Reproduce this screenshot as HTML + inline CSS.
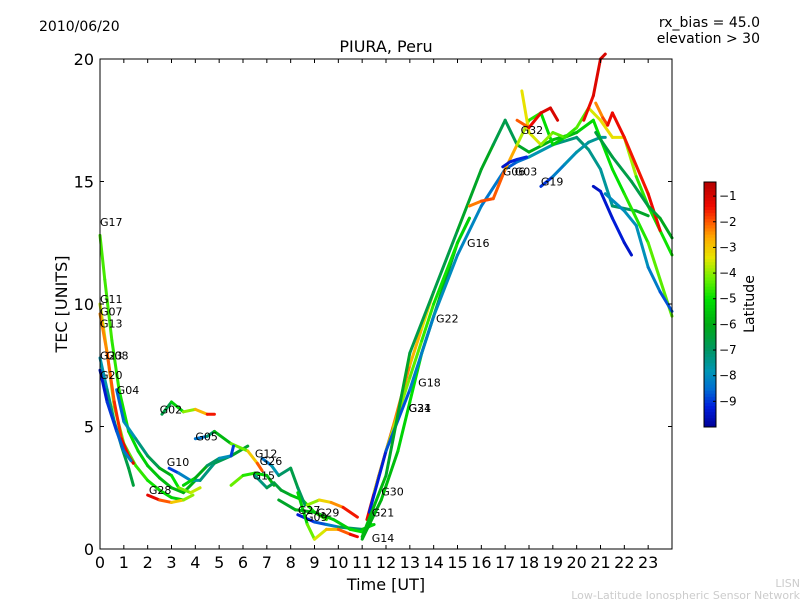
<!DOCTYPE html>
<html><head><meta charset="utf-8"><style>
body{margin:0;background:#fff;width:800px;height:600px;overflow:hidden;font-family:"Liberation Sans","DejaVu Sans",sans-serif}
</style></head><body>
<svg id="chart" width="800" height="600" xmlns="http://www.w3.org/2000/svg" font-family="DejaVu Sans, Liberation Sans, sans-serif">
<rect width="800" height="600" fill="#fff"/>
<text x="39" y="31" font-size="14">2010/06/20</text>
<text x="760" y="27" font-size="14" text-anchor="end">rx_bias = 45.0</text>
<text x="760" y="43" font-size="14" text-anchor="end">elevation &gt; 30</text>
<text x="386" y="52" font-size="16" text-anchor="middle">PIURA, Peru</text>
<g id="marks"></g>
<g id="labels" font-size="11"></g>
<rect x="100" y="59" width="572" height="490" fill="none" stroke="#000" stroke-width="1"/>
<g id="axes"></g>
<text x="386" y="590" font-size="16" text-anchor="middle">Time [UT]</text>
<text transform="translate(67,304) rotate(-90)" font-size="16" text-anchor="middle">TEC [UNITS]</text>
<g id="cbar"></g>
<text transform="translate(754,304) rotate(-90)" font-size="14" text-anchor="middle">Latitude</text>
<text x="800" y="587" font-size="11" fill="#ccc" text-anchor="end">LISN</text>
<text x="800" y="599" font-size="11" fill="#ccc" text-anchor="end">Low-Latitude Ionospheric Sensor Network</text>
</svg>
<script>
const xTicks=[0,1,2,3,4,5,6,7,8,9,10,11,12,13,14,15,16,17,18,19,20,21,22,23];
const yTicks=[0,5,10,15,20];
const cbTicks=[-1,-2,-3,-4,-5,-6,-7,-8,-9];
const latMin=-10, latMax=-0.45;
const satNames=["G17","G11","G07","G13","G23","G08","G20","G04","G02","G05","G10","G28","G12","G26","G15","G27","G09","G29","G14","G21","G30","G31","G24","G18","G22","G16","G06","G03","G32","G19"];
const labelT=[0,0,0,0,0,0.25,0,0.7,2.5,4,2.8,2.05,6.5,6.7,6.4,8.3,8.6,9.1,11.4,11.4,11.8,12.95,12.95,13.35,14.1,15.4,16.9,17.4,17.65,18.5];
const labelV=[13.35,10.2,9.7,9.2,7.9,7.9,7.1,6.5,5.7,4.6,3.55,2.4,3.9,3.6,3.0,1.6,1.3,1.5,0.45,1.5,2.35,5.75,5.75,6.8,9.4,12.5,15.4,15.4,17.1,15.0];
const trackTimes=[
 [0,0.2,0.5,0.8,1.2,1.6,2,2.5,3,3.5,4],
 [0,0.3,0.6,1,1.5,2,2.5,3,3.5],
 [0,0.3,0.6,0.9,1.2,1.4],
 [0,0.3,0.6,0.9,1.2,1.4],
 [0,0.3,0.7,1,1.3],
 [0.7,1,1.5,2,2.5,3,3.3,3.8,4.2],
 [2.0,2.5,3,3.5,3.9],
 [2.9,3.3,3.8,4.2,4.8,5.5,6.2],
 [2.6,3,3.5,4,4.5,4.8],
 [4.0,4.5,4.8,5.5,6.2,6.6,6.8],
 [3.5,4,4.5,5,5.5,5.6],
 [5.5,6,6.5,7,7.3],
 [6.5,7,7.3,7.6,8,8.5,9,9.5],
 [6.8,7.2,7.5,8,8.3,8.6],
 [8.3,9,9.5,10,11,11.5],
 [8.7,9.2,9.7,10.2,10.8],
 [8.3,8.7,9,9.5,10,10.5,10.8],
 [7.5,8.2,9,9.8,10.5,11,11.4],
 [11.0,11.8,12.5,13,13.5,14,14.5,15,15.5],
 [11.2,11.7,12.3,13,13.5,14],
 [11.5,12,12.5,13,13.5,14,15,15.5],
 [11.3,12,13,14,15,16,17,17.5,18,19,20,20.5,21,21.5,22.5,23],
 [11.0,12,13,14,15,16,16.5,17,17.5,18,19,20,20.7,21.5,22,23,24],
 [15.5,16,16.5,17,17.5,18,18.5,19,19.5,20],
 [17.7,18,18.5,19,19.5,20,20.5,21,21.5,22,22.5,23,24],
 [17.5,18,18.5,18.9,19.2],
 [18.5,19,19.5,20,20.5,21,21.2],
 [20.7,21,21.5,22,22.3],
 [20.3,20.7,21,21.2],
 [20.8,21.1,21.3,21.5,22,23,23.5],
 [20.8,21.5,22.3,23,23.5,24],
 [21.2,22,22.5,23,23.5,24],
 [16.9,17.2,17.5,17.9]
];
const trackValues=[
 [12.8,11,8.5,6.5,4.8,4.0,3.4,2.9,2.5,2.3,2.8],
 [10,8,5.8,4.3,3.4,2.8,2.4,2.1,2.0],
 [9.6,8,6,4.5,3.8,3.5],
 [7.8,6.5,5.2,4.2,3.3,2.6],
 [7.3,6,4.8,4.0,3.6],
 [6.5,5.2,4.5,3.8,3.3,3.0,2.5,2.3,2.5],
 [2.2,2.0,1.9,2.0,2.2],
 [3.3,3.1,2.8,2.8,3.5,3.8,4.2],
 [5.5,6.0,5.6,5.7,5.5,5.5],
 [4.5,4.6,4.8,4.3,4.0,3.5,3.2],
 [2.6,2.9,3.4,3.7,3.8,4.2],
 [2.6,3.0,3.1,3.0,2.6],
 [3.0,2.5,2.7,2.4,2.2,2.0,1.5,1.2],
 [3.7,3.4,3.0,3.3,2.5,1.8],
 [1.4,1.1,1.0,0.9,0.8,1.0],
 [1.8,2.0,1.9,1.7,1.3],
 [2.3,1.0,0.4,0.8,0.8,0.6,0.5],
 [2.0,1.6,1.5,1.2,0.8,0.7,1.0],
 [0.4,2.0,4.0,6.0,8.0,9.5,11,12.5,13.5],
 [1.2,3,5,7.5,9,10.5],
 [2.3,4,5.5,7,8.5,10,12.5,13.5],
 [1.5,4,6.5,9.5,12,14,15.5,15.8,16,16.5,16.8,16.3,15.5,14.0,13.8,13.6],
 [0.5,3,8,10.5,13,15.5,16.5,17.5,16.5,16.2,16.7,17,17.5,15.5,14.5,12.5,9.5],
 [14,14.2,14.3,15.5,16.5,17.5,17.8,16.5,16.8,17],
 [18.7,17,16.5,17,16.8,17.2,18,17.5,16.8,16.8,15.2,14,12],
 [17.5,17.2,17.8,18,17.5],
 [14.8,15.2,15.7,16.2,16.6,16.8,16.8],
 [14.8,14.6,13.5,12.5,12.0],
 [17.5,18.5,20,20.2],
 [18.2,17.6,17.3,17.8,16.8,14.5,13],
 [17,16,15,14,13.5,12.7],
 [14.5,13.8,13.2,11.5,10.5,9.7],
 [15.6,15.8,15.9,16]
];
const trackLats=[
 [-4.5,-4.5,-4.6,-4.8,-5,-5.2,-5.4,-5.6,-5.8,-5.8,-6],
 [-3.5,-3.7,-4,-4.2,-4.5,-4.8,-5,-5.2,-5.4],
 [-2.5,-2.2,-1.8,-1.5,-1.2,-1.0],
 [-8,-7.5,-7,-6.8,-6.5,-6.5],
 [-9.5,-9.2,-8.8,-8.5,-8],
 [-9,-8.2,-7.5,-7,-6.5,-5.5,-4.5,-3.8,-3.5],
 [-1,-1.5,-2.5,-3.5,-4.5],
 [-9.3,-8.5,-7.8,-7.5,-7,-6.5,-6.2],
 [-7.2,-6,-4.5,-3.5,-2,-1],
 [-9.3,-7.5,-6.5,-5,-3.5,-2.5,-1.5],
 [-5,-5.5,-6.5,-7.5,-8.3,-9.5],
 [-4,-4.5,-5,-5.5,-6],
 [-7.5,-7,-6.5,-6.5,-6,-5,-4.8,-4.5],
 [-8.8,-8,-7.5,-6.5,-6.8,-7],
 [-9.5,-9,-8.5,-8,-6,-5],
 [-4.5,-3.5,-2.8,-2,-1],
 [-6,-4.5,-4,-3,-2.5,-1.5,-1.2],
 [-6.5,-6,-5.5,-5.5,-5.2,-5,-5],
 [-6,-5.8,-5.5,-5,-5,-5.5,-6,-6.5,-7],
 [-1,-1.5,-2,-2.5,-3,-3.5],
 [-3.5,-3.5,-4,-4.2,-4.5,-4.8,-5,-5.5],
 [-9.5,-9,-8.5,-8,-8,-8.2,-8.5,-8.8,-8,-7.5,-7,-7.3,-7.5,-7.6,-6.5,-6],
 [-5.5,-6,-6.5,-6.8,-6.5,-6,-6.3,-7,-6.5,-6,-5.8,-5.5,-5,-5,-5,-4.5,-4.2],
 [-2.5,-2,-1.8,-2.2,-3,-4.5,-5,-5.2,-5.5,-6],
 [-3.5,-3.2,-3.8,-4.2,-4.5,-4.8,-4,-3,-3.5,-3.2,-4.5,-4.8,-5],
 [-2.5,-1.5,-1.2,-1,-1],
 [-9.5,-8.5,-8,-7.8,-7.5,-7.5,-7.5],
 [-9.5,-9.5,-9.2,-9.3,-9.5],
 [-1.5,-1.2,-1,-1],
 [-2.5,-2.2,-1.5,-1.2,-1.5,-1.5,-1.2],
 [-6.5,-6.5,-6.8,-6.5,-6.2,-6],
 [-8,-8,-7.8,-8,-8.5,-9],
 [-9.5,-9.3,-9.2,-9]
];
const X0=100,X1=672,Y0=549,Y1=59;
const xScale=t=>X0+t*(X1-X0)/24;
const yScale=v=>Y0-v*(Y0-Y1)/20;
const NS="http://www.w3.org/2000/svg";
// colormap stops (latitude -> rgb)
const cmStops=[[-10,[0,0,150]],[-9.2,[0,30,220]],[-8.5,[0,110,210]],[-7.8,[0,150,180]],[-7,[0,150,100]],[-6,[0,170,20]],[-5,[0,225,0]],[-4.2,[110,240,0]],[-3.4,[230,230,0]],[-2.6,[255,170,0]],[-2,[255,90,0]],[-1.4,[240,10,0]],[-0.45,[180,0,0]]];
function jet(lat){
  if(lat<=cmStops[0][0])return `rgb(${cmStops[0][1]})`;
  for(let i=0;i<cmStops.length-1;i++){
    const [a,ca]=cmStops[i],[b,cb]=cmStops[i+1];
    if(lat<=b){const f=(lat-a)/(b-a);return `rgb(${ca.map((c,j)=>Math.round(c+(cb[j]-c)*f)).join(',')})`;}
  }
  return `rgb(${cmStops[cmStops.length-1][1]})`;
}
const marks=document.getElementById('marks');
for(let k=0;k<trackTimes.length;k++){
  const T=trackTimes[k],V=trackValues[k],L=trackLats[k];
  const g=document.createElementNS(NS,'g');
  
  
  for(let i=0;i<T.length-1;i++){
    const ln=document.createElementNS(NS,'line');
    ln.setAttribute('x1',xScale(T[i]));ln.setAttribute('y1',yScale(V[i]));
    ln.setAttribute('x2',xScale(T[i+1]));ln.setAttribute('y2',yScale(V[i+1]));
    ln.setAttribute('stroke',jet((L[i]+L[i+1])/2));
    ln.setAttribute('stroke-width','3');ln.setAttribute('stroke-linecap','round');
    
    
    g.appendChild(ln);
  }
  marks.appendChild(g);
}
const labels=document.getElementById('labels');
satNames.forEach((n,i)=>{
  const t=document.createElementNS(NS,'text');
  t.setAttribute('x',xScale(labelT[i]));t.setAttribute('y',yScale(labelV[i])+4);
  t.textContent=n;
  
  
  labels.appendChild(t);
});
const axes=document.getElementById('axes');
function add(parent,tag,attrs,text){const e=document.createElementNS(NS,tag);for(const k in attrs)e.setAttribute(k,attrs[k]);if(text!==undefined)e.textContent=text;parent.appendChild(e);return e;}
xTicks.forEach(v=>{
  const x=xScale(v);
  const a=add(axes,'line',{x1:x,x2:x,y1:Y0,y2:Y0-4,stroke:'#000'});
  
  
  const b=add(axes,'line',{x1:x,x2:x,y1:Y1,y2:Y1+4,stroke:'#000'});
  
  
  const t=add(axes,'text',{x:x,y:568,'font-size':16,'text-anchor':'middle'},String(v));
  
  
});
yTicks.forEach(v=>{
  const y=yScale(v);
  const a=add(axes,'line',{x1:X0,x2:X0+4,y1:y,y2:y,stroke:'#000'});
  
  
  const b=add(axes,'line',{x1:X1,x2:X1-4,y1:y,y2:y,stroke:'#000'});
  
  
  const t=add(axes,'text',{x:94,y:y+6,'font-size':16,'text-anchor':'end'},String(v));
  
  
});
const cb=document.getElementById('cbar');
const CX=704,CW=12,CT=182,CB=427;
const cbY=l=>CB-(l-latMin)/(latMax-latMin)*(CB-CT);
for(let i=0;i<80;i++){
  const l0=latMin+(latMax-latMin)*i/80,l1=latMin+(latMax-latMin)*(i+1)/80;
  const r=add(cb,'rect',{x:CX,y:cbY(l1),width:CW,height:cbY(l0)-cbY(l1)+0.5,fill:jet((l0+l1)/2)});
  
  
}
const fr=add(cb,'rect',{x:CX,y:CT,width:CW,height:CB-CT,fill:'none',stroke:'#000'});


cbTicks.forEach(l=>{
  const y=cbY(l);
  const a=add(cb,'line',{x1:CX+CW-3,x2:CX+CW,y1:y,y2:y,stroke:'#000'});
  
  
  const t=add(cb,'text',{x:719,y:y+4,'font-size':12},'\u2212'+Math.abs(l));
  
  
});
</script>
</body></html>
